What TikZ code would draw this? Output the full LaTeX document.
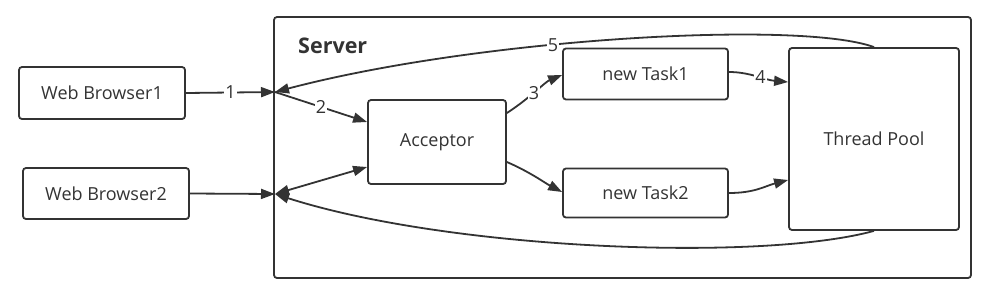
\documentclass[tikz,border=0pt]{standalone}
\usepackage{fontspec}
\setmainfont{Open Sans}
\usetikzlibrary{arrows.meta}
\definecolor{ink}{HTML}{333333}
\begin{document}
\begin{tikzpicture}[x=1pt,y=-1pt,
  box/.style={draw=ink, line width=1.8pt, rounded corners=3pt, text=ink, font=\fontsize{18}{21}\selectfont, inner sep=0pt},
  conn/.style={draw=ink, line width=1.8pt, -{Triangle[length=14pt,width=10pt]}},
  num/.style={fill=white, inner sep=1pt, text=ink, font=\fontsize{18}{21}\selectfont}]
\useasboundingbox (0,0) rectangle (992,295);
% server frame
\node[box, minimum width=697pt, minimum height=261pt] (server) at (622.5,147.5) {};
\node[anchor=west, text=ink, font=\fontsize{21.5}{24}\selectfont\bfseries, inner sep=0pt] (slabel) at (298,46) {Server};
% nodes
\node[box, minimum width=166pt, minimum height=52pt] (wb1) at (102,93) {Web Browser1};
\node[box, minimum width=166pt, minimum height=51pt] (wb2) at (106,193.5) {Web Browser2};
\node[box, minimum width=138pt, minimum height=84pt] (acc) at (437,142) {Acceptor};
\node[box, minimum width=165pt, minimum height=51pt] (t1) at (645.5,74) {new Task1};
\node[box, minimum width=165pt, minimum height=49pt] (t2) at (645.5,193) {new Task2};
\node[box, minimum width=170pt, minimum height=182pt] (tp) at (874,139) {Thread Pool};
\coordinate (in1) at (275,92);
\coordinate (in2) at (275,194);
% connectors
\draw[conn] (wb1.east) -- node[num] {1} (in1);
\draw[conn] (wb2.east) -- (in2);
\draw[conn] (in1) -- node[num, pos=0.5] {2} ([yshift=20pt]acc.west);
\draw[conn, {Triangle[length=14pt,width=10pt]}-{Triangle[length=14pt,width=10pt]}] (in2) -- ([yshift=-25pt]acc.west);
\draw[conn] ([yshift=29pt]acc.east) .. controls (530,98) and (545,82) .. node[num, pos=0.45] {3} ([yshift=-1pt]t1.west);
\draw[conn] ([yshift=-20pt]acc.east) .. controls (530,172) and (545,183) .. ([yshift=1pt]t2.west);
\draw[conn] ([yshift=2pt]t1.east) .. controls (750,72) and (765,80) .. node[num, pos=0.55] {4} ([yshift=57pt]tp.west);
\draw[conn] ([yshift=0pt]t2.east) .. controls (755,193) and (765,186) .. ([yshift=-41pt]tp.west);
\draw[conn] (tp.north) .. controls (800,20) and (480,38) .. node[num, pos=0.6] {5} (in1);
\draw[conn] (tp.south) .. controls (760,262) and (450,250) .. (in2);
\end{tikzpicture}
\end{document}
